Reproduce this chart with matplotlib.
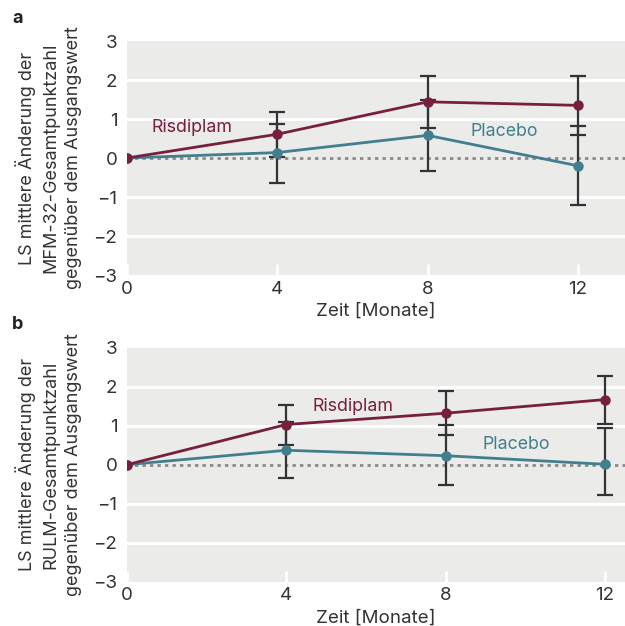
import matplotlib
matplotlib.use("Agg")
import matplotlib.pyplot as plt

# ==========================================================
# Data
# ==========================================================

months = [0, 4, 8, 12]

# panel a: MFM-32
mfm_risdiplam = [0.0, 0.61, 1.44, 1.35]
mfm_risdiplam_lo = [None, 0.03, 0.78, 0.60]
mfm_risdiplam_hi = [None, 1.19, 2.10, 2.10]
mfm_placebo = [0.0, 0.14, 0.58, -0.20]
mfm_placebo_lo = [None, -0.63, -0.33, -1.21]
mfm_placebo_hi = [None, 0.88, 1.50, 0.82]

# panel b: RULM
rulm_risdiplam = [0.0, 1.03, 1.32, 1.67]
rulm_risdiplam_lo = [None, 0.51, 0.76, 1.05]
rulm_risdiplam_hi = [None, 1.53, 1.89, 2.27]
rulm_placebo = [0.0, 0.37, 0.23, 0.01]
rulm_placebo_lo = [None, -0.33, -0.53, -0.78]
rulm_placebo_hi = [None, 1.09, 1.01, 0.93]

y_ticks = [-3, -2, -1, 0, 1, 2, 3]
x_ticks = [0, 4, 8, 12]

RED = "#76203e"
TEAL = "#417f8e"
BG = "#ebebe9"
DARK = "#333333"

plt.rcParams["font.family"] = ["Inter", "DejaVu Sans"]


def draw_panel(ax, risd, risd_lo, risd_hi, plac, plac_lo, plac_hi,
               ylabel, xmax, risd_pos, plac_pos, letter):

    ax.set_facecolor(BG)
    for s in ax.spines.values():
        s.set_visible(False)

    for g in [-2, -1, 1, 2]:
        ax.axhline(g, color="white", lw=2.2, zorder=1)
    ax.axhline(0, color="#8a8a8a", lw=2, ls=(0, (1.2, 1.5)), zorder=2)

    for vals, lo, hi in [(risd, risd_lo, risd_hi), (plac, plac_lo, plac_hi)]:
        for x, v, l, h in zip(months, vals, lo, hi):
            if l is None:
                continue
            ax.errorbar([x], [v], yerr=[[v - l], [h - v]], fmt="none",
                        ecolor=DARK, elinewidth=1.6, capsize=5.5,
                        capthick=1.6, zorder=3)

    ax.plot(months, plac, color=TEAL, lw=2, marker="o", ms=6.5, zorder=4)
    ax.plot(months, risd, color=RED, lw=2, marker="o", ms=6.5, zorder=5)

    ax.text(risd_pos[0], risd_pos[1], "Risdiplam", color=RED,
            fontsize=12.8, ha="center", va="center")
    ax.text(plac_pos[0], plac_pos[1], "Placebo", color=TEAL,
            fontsize=12.8, ha="center", va="center")

    ax.set_xlim(0, xmax)
    ax.set_ylim(-3, 3)
    ax.set_xticks(x_ticks)
    ax.set_yticks(y_ticks)
    ax.set_yticklabels([str(t).replace("-", "\u2212") for t in y_ticks])
    ax.tick_params(axis="x", direction="in", length=8, width=2,
                   color="white", labelsize=13.5, labelcolor=DARK, pad=4)
    ax.tick_params(axis="y", length=0, labelsize=13.5, labelcolor=DARK, pad=7)
    ax.set_xlabel("Zeit [Monate]", fontsize=13.5, color=DARK, labelpad=4)
    ax.set_ylabel(ylabel, fontsize=13, color=DARK, labelpad=8,
                  linespacing=1.45)
    ax.text(-0.231, 1.098, letter, transform=ax.transAxes, fontsize=13,
            fontweight="bold", color="#222222", ha="left", va="center")


fig = plt.figure(figsize=(6.25, 6.26), dpi=100)
ax_a = fig.add_axes([0.2032, 0.5607, 0.7968, 0.3738])
ax_b = fig.add_axes([0.2032, 0.0708, 0.7968, 0.3738])

draw_panel(ax_a, mfm_risdiplam, mfm_risdiplam_lo, mfm_risdiplam_hi,
           mfm_placebo, mfm_placebo_lo, mfm_placebo_hi,
           "LS mittlere Änderung der\nMFM-32-Gesamtpunktzahl\ngegenüber dem Ausgangswert",
           13.25, (1.73, 0.77), (10.05, 0.69), "a")

draw_panel(ax_b, rulm_risdiplam, rulm_risdiplam_lo, rulm_risdiplam_hi,
           rulm_placebo, rulm_placebo_lo, rulm_placebo_hi,
           "LS mittlere Änderung der\nRULM-Gesamtpunktzahl\ngegenüber dem Ausgangswert",
           12.5, (5.67, 1.5), (9.78, 0.51), "b")

fig.savefig("out.png", dpi=100)
